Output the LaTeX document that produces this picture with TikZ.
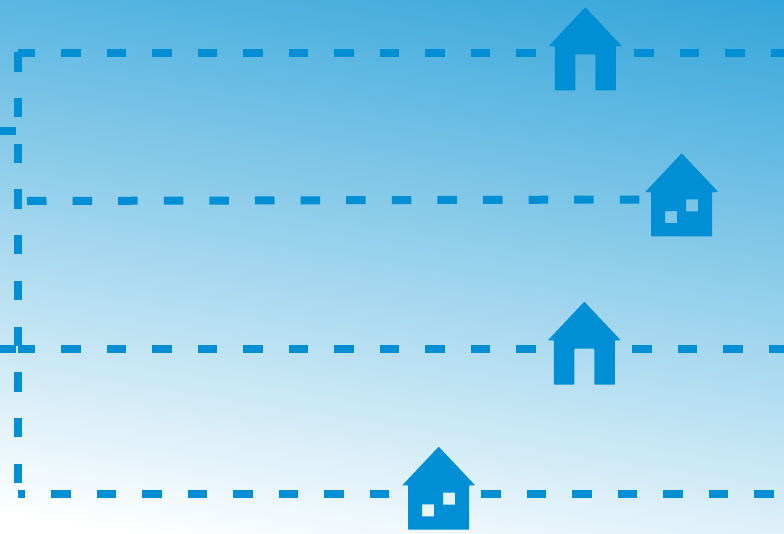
\documentclass[tikz,border=0pt]{standalone}
\definecolor{roadblue}{RGB}{0,143,212}
\definecolor{skytop}{RGB}{51,165,218}
\usetikzlibrary{positioning}
\pgfdeclareverticalshading{skyfade}{100bp}{
  color(0bp)=(white); color(34.7bp)=(white); color(66.2bp)=(skytop); color(100bp)=(skytop)}

\begin{document}
\begin{tikzpicture}[
      x=1pt, y=-1pt,
      road/.style={draw=roadblue, line width=8pt, dash pattern=on 19.5pt off 26pt},
      doorhouse/.pic={
        \fill[roadblue, rounded corners=0.6pt]
          (0,0) -- (-36.5,38.7) -- (-30.5,38.7) -- (-30.5,83) -- (-10,83) -- (-10,47)
          -- (10,47) -- (10,83) -- (30.5,83) -- (30.5,38.7) -- (36.5,38.7) -- cycle;
      },
      windowhouse/.pic={
        \fill[roadblue, even odd rule]
          [rounded corners=0.6pt] (0,0) -- (-36.5,38.7) -- (-30.5,38.7) -- (-30.5,83)
          -- (30.5,83) -- (30.5,38.7) -- (36.5,38.7) -- cycle
          [sharp corners] (-16.7,57.7) rectangle (-4.7,69.7)
          (4.3,46) rectangle (16.3,58);
      }
    ]
      \useasboundingbox (0,0) rectangle (784,533);
      \clip (0,0) rectangle (784,533);
      \shade[shading=skyfade, shading angle=-9] (-108,-234) rectangle (892,766);

      \coordinate (cornerTop) at (18,52.3);
      \coordinate (cornerBottom) at (18,483);
      \coordinate (stubAleft) at (0,131);
      \coordinate (stubAright) at (16,131);
      \coordinate (stubBleft) at (0,349);
      \coordinate (stubBright) at (16,349);
      \coordinate (lineAleft) at (18,53);
      \coordinate (lineAmid) at (536,53);
      \coordinate (lineAgo) at (634,53);
      \coordinate (lineAend) at (784,53);
      \coordinate (lineBleft) at (27,201);
      \coordinate (lineBmid) at (640,199.5);
      \coordinate (lineCleft) at (18,349);
      \coordinate (lineCmid) at (536,349);
      \coordinate (lineCgo) at (632,349);
      \coordinate (lineCend) at (784,349);
      \coordinate (lineDleft) at (18,494);
      \coordinate (lineDmid) at (389,494);
      \coordinate (lineDgo) at (481,494);
      \coordinate (lineDend) at (773.5,494);

      \draw[road, dash pattern=on 19.3pt off 26.4pt] (cornerTop) -- (cornerBottom);
      \draw[road] (stubAleft) -- (stubAright);
      \draw[road] (stubBleft) -- (stubBright);
      \draw[road, dash phase=2.5pt] (lineAleft) -- (lineAmid);
      \draw[road] (lineAgo) -- (lineAend);
      \draw[road, dash pattern=on 19.5pt off 26.1pt] (lineBleft) -- (lineBmid);
      \draw[road, dash phase=2.5pt] (lineCleft) -- (lineCmid);
      \draw[road] (lineCgo) -- (lineCend);
      \draw[road, dash phase=12.5pt] (lineDleft) -- (lineDmid);
      \draw[road] (lineDgo) -- (lineDend);

      \pic (houseA) at (585.3,7.3) {doorhouse};
      \pic (houseB) at (681.7,153.3) {windowhouse};
      \pic (houseC) at (584.3,301.7) {doorhouse};
      \pic (houseD) at (438.7,446.7) {windowhouse};
    \end{tikzpicture}
\end{document}
